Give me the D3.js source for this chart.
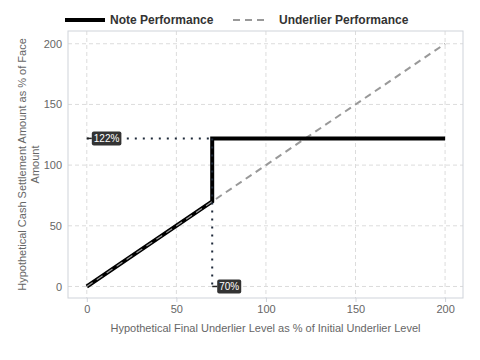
<!DOCTYPE html>
<html><head><meta charset="utf-8">
<script src="https://cdn.jsdelivr.net/npm/d3@7"></script>
<style>body{margin:0;background:#fff;}svg{font-family:"Liberation Sans",Arial,sans-serif;}</style>
</head><body><svg id="c" width="480" height="360"></svg>
<script>
const noteX = [0, 70, 70, 200];
const noteY = [0, 70, 122, 122];
const underX = [0, 200];
const underY = [0, 200];
const xTicks = [0, 50, 100, 150, 200];
const yTicks = [0, 50, 100, 150, 200];
const barrier = 70;
const cap = 122;
const labels = ["122%", "70%"];
const seriesNames = ["Note Performance", "Underlier Performance"];

const svg = d3.select("#c");
const L = 68, R = 463, T = 31, B = 298;
const x = d3.scaleLinear().domain([-10.5, 210]).range([L, R]);
const y = d3.scaleLinear().domain([-9.5, 210.5]).range([B, T]);

// grid
svg.append("g").selectAll("line").data(xTicks).join("line")
  .attr("x1", d => x(d)).attr("x2", d => x(d)).attr("y1", T).attr("y2", B)
  .attr("stroke", "#dcdcdc").attr("stroke-dasharray", "4,3");
svg.append("g").selectAll("line").data(yTicks).join("line")
  .attr("y1", d => y(d)).attr("y2", d => y(d)).attr("x1", L).attr("x2", R)
  .attr("stroke", "#dcdcdc").attr("stroke-dasharray", "4,3");
svg.append("rect").attr("x", L).attr("y", T).attr("width", R - L).attr("height", B - T)
  .attr("fill", "none").attr("stroke", "#cfd3da");

// axes
const xa = svg.append("g").attr("transform", `translate(0,${B})`)
  .call(d3.axisBottom(x).tickValues(xTicks).tickSize(4).tickPadding(3));
xa.select(".domain").remove();
xa.selectAll("line").attr("stroke", "#cfd3da");
xa.selectAll("text").attr("fill", "#666").attr("font-size", 11);
const ya = svg.append("g").attr("transform", `translate(${L},0)`)
  .call(d3.axisLeft(y).tickValues(yTicks).tickSize(0).tickPadding(6));
ya.select(".domain").remove();
ya.selectAll("text").attr("fill", "#666").attr("font-size", 11);

svg.append("text").attr("x", (L + R) / 2).attr("y", 332).attr("text-anchor", "middle")
  .attr("fill", "#666").attr("font-size", 11)
  .text("Hypothetical Final Underlier Level as % of Initial Underlier Level");
const yt = svg.append("text").attr("transform", `translate(26,${(T + B) / 2}) rotate(-90)`)
  .attr("text-anchor", "middle").attr("fill", "#666").attr("font-size", 11);
yt.append("tspan").attr("x", 0).attr("dy", 0).text("Hypothetical Cash Settlement Amount as % of Face");
yt.append("tspan").attr("x", 0).attr("dy", 13).text("Amount");

const line = d3.line().x(d => x(d[0])).y(d => y(d[1]));
// underlier
svg.append("path").datum(underX.map((v, i) => [v, underY[i]])).attr("d", line)
  .attr("fill", "none").attr("stroke", "#999").attr("stroke-width", 2).attr("stroke-dasharray", "7,5");
// note
svg.append("path").datum(noteX.map((v, i) => [v, noteY[i]])).attr("d", line)
  .attr("fill", "none").attr("stroke", "#000").attr("stroke-width", 4);
// underlier dashes visible on top of the note's first segment
svg.append("path").datum([[underX[0], underY[0]], [barrier, barrier]]).attr("d", line)
  .attr("fill", "none").attr("stroke", "#999").attr("stroke-width", 1.2).attr("stroke-dasharray", "7,5");

// dotted reference lines
svg.append("line").attr("x1", x(0)).attr("x2", x(barrier)).attr("y1", y(cap)).attr("y2", y(cap))
  .attr("stroke", "#1f2a3a").attr("stroke-width", 2).attr("stroke-dasharray", "2,6");
svg.append("line").attr("x1", x(barrier)).attr("x2", x(barrier)).attr("y1", y(cap)).attr("y2", y(0))
  .attr("stroke", "#1f2a3a").attr("stroke-width", 2).attr("stroke-dasharray", "2,6");

// labels
function lab(cx, cy, t) {
  svg.append("line").attr("x1", cx).attr("x2", cx + 5).attr("y1", cy).attr("y2", cy)
    .attr("stroke", "#222").attr("stroke-width", 1.5);
  const g = svg.append("g");
  const tx = g.append("text").attr("x", cx + 7).attr("y", cy + 4).attr("fill", "#fff")
    .attr("font-size", 10).text(t);
  const w = tx.node().getComputedTextLength();
  g.insert("rect", "text").attr("x", cx + 5).attr("y", cy - 7).attr("width", w + 4).attr("height", 14)
    .attr("rx", 2).attr("fill", "#333");
}
lab(x(0), y(cap), labels[0]);
lab(x(barrier), y(0), labels[1]);

// legend
const lg = svg.append("g");
lg.append("line").attr("x1", 65).attr("x2", 105).attr("y1", 20).attr("y2", 20).attr("stroke", "#000").attr("stroke-width", 4);
lg.append("text").attr("x", 110).attr("y", 24).attr("font-size", 12).attr("font-weight", "bold").attr("fill", "#333").text(seriesNames[0]);
lg.append("line").attr("x1", 233).attr("x2", 268).attr("y1", 20).attr("y2", 20).attr("stroke", "#999").attr("stroke-width", 2).attr("stroke-dasharray", "7,5");
lg.append("text").attr("x", 279).attr("y", 24).attr("font-size", 12).attr("font-weight", "bold").attr("fill", "#333").text(seriesNames[1]);
</script></body></html>
